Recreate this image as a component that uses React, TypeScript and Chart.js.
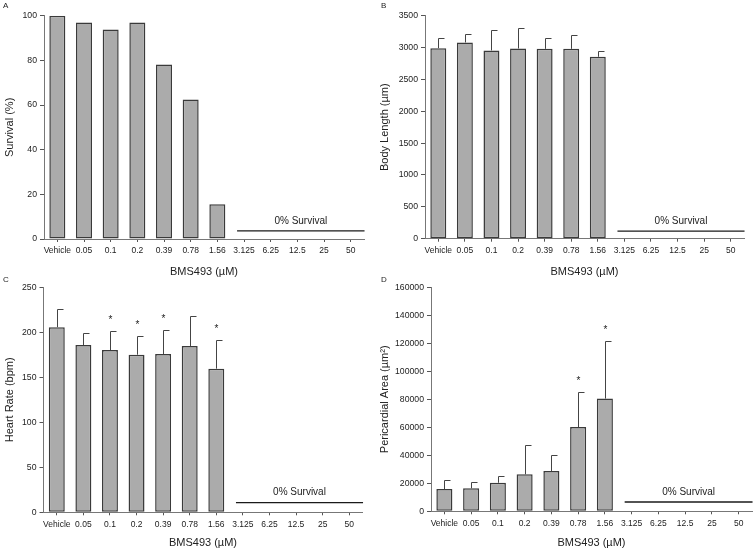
import React, { useEffect, useRef } from "react";
import { Chart, registerables } from "chart.js";

Chart.register(...registerables);

const categories = ["Vehicle", "0.05", "0.1", "0.2", "0.39", "0.78", "1.56", "3.125", "6.25", "12.5", "25", "50"];

const survivalValues = [100, 96.9, 93.8, 96.9, 78.1, 62.5, 15.6, null, null, null, null, null];

const bodyLengthValues = [2990, 3080, 2955, 2985, 2980, 2980, 2855, null, null, null, null, null];
const bodyLengthSD = [165, 135, 315, 315, 175, 210, 95, null, null, null, null, null];

const heartRateValues = [205.6, 185.9, 180.3, 175.1, 175.9, 184.8, 159.6, null, null, null, null, null];
const heartRateSD = [20, 13, 21.5, 20.4, 26.3, 33, 32.2, null, null, null, null, null];
const heartRateStars = [false, false, true, true, true, false, true, false, false, false, false, false];

const pericardialValues = [15900, 16400, 20400, 26400, 28800, 60200, 80500, null, null, null, null, null];
const pericardialSD = [6200, 4500, 5000, 20700, 11600, 25200, 41400, null, null, null, null, null];
const pericardialStars = [false, false, false, false, false, true, true, false, false, false, false, false];

const zeroLineLevels = { A: 3.6, B: 120, C: 10.7, D: 6640 };
const zeroLabel = "0% Survival";
const xTitle = "BMS493 (µM)";

type Rect = { x: number; y: number; w: number; h: number };
type Area = { left: number; top: number; right: number; bottom: number };

interface PanelProps {
  letter: string;
  values: (number | null)[];
  sd?: (number | null)[];
  stars?: boolean[];
  yMax: number;
  yStep: number;
  yTitle: string;
  zeroLevel: number;
  rect: Rect;
  area: Area;
  yTitleX: number;
  xTitleY: number;
}

const FONT = "Arial, 'Liberation Sans', sans-serif";
const AXIS_COLOR = "#777";
const TEXT_COLOR = "#222";

function Panel(p: PanelProps) {
  const ref = useRef<HTMLCanvasElement | null>(null);
  useEffect(() => {
    const canvas = ref.current;
    if (!canvas) return;
    const { rect, area } = p;
    const overlay = {
      id: "overlay" + p.letter,
      afterDatasetsDraw(chart: any) {
        const ctx = chart.ctx;
        const xs = chart.scales.x;
        const ys = chart.scales.y;
        const meta = chart.getDatasetMeta(0);
        ctx.save();
        if (p.sd) {
          ctx.strokeStyle = "#444";
          ctx.lineWidth = 1;
          p.sd.forEach((s, i) => {
            const v = p.values[i];
            if (s == null || v == null) return;
            const el = meta.data[i];
            const x = Math.round(el.x) + 0.5;
            const y0 = ys.getPixelForValue(v);
            const y1 = Math.round(ys.getPixelForValue(v + s)) + 0.5;
            ctx.beginPath();
            ctx.moveTo(x, y0);
            ctx.lineTo(x, y1);
            ctx.moveTo(x, y1);
            ctx.lineTo(x + 6, y1);
            ctx.stroke();
            if (p.stars && p.stars[i]) {
              ctx.fillStyle = TEXT_COLOR;
              ctx.font = `10px ${FONT}`;
              ctx.textAlign = "center";
              ctx.textBaseline = "middle";
              ctx.fillText("*", x, y1 - 11);
            }
          });
        }
        const n = categories.length;
        const spacing = (xs.right - xs.left) / n;
        const xStart = xs.getPixelForValue(7) - 0.26 * spacing;
        const xEnd = xs.getPixelForValue(n - 1) + 0.52 * spacing;
        const yl = ys.getPixelForValue(p.zeroLevel);
        ctx.strokeStyle = "#1a1a1a";
        ctx.lineWidth = 1.3;
        ctx.beginPath();
        ctx.moveTo(xStart, yl);
        ctx.lineTo(xEnd, yl);
        ctx.stroke();
        ctx.fillStyle = TEXT_COLOR;
        ctx.font = `10px ${FONT}`;
        ctx.textAlign = "center";
        ctx.textBaseline = "middle";
        ctx.fillText(zeroLabel, (xStart + xEnd) / 2, yl - 10);
        ctx.restore();
      },
    };
    const chart = new Chart(canvas, {
      type: "bar",
      data: {
        labels: categories,
        datasets: [
          {
            data: p.values as any,
            backgroundColor: "#ababab",
            borderColor: "#3a3a3a",
            borderWidth: 1.5,
            borderSkipped: false,
            barPercentage: 0.6,
            categoryPercentage: 1,
          },
        ],
      },
      options: {
        animation: false,
        responsive: false,
        maintainAspectRatio: false,
        devicePixelRatio: 1,
        layout: {
          padding: {
            left: 0,
            top: area.top - rect.y,
            right: rect.x + rect.w - area.right,
            bottom: 0,
          },
        },
        plugins: { legend: { display: false }, tooltip: { enabled: false } },
        scales: {
          x: {
            type: "category",
            offset: true,
            grid: {
              display: true,
              drawOnChartArea: false,
              drawTicks: true,
              tickLength: 3,
              color: "#555",
              offset: false,
            },
            border: { display: true, color: AXIS_COLOR, width: 1 },
            ticks: {
              autoSkip: false,
              maxRotation: 0,
              minRotation: 0,
              padding: 4,
              color: TEXT_COLOR,
              font: { family: FONT, size: 8.5 },
            },
            title: {
              display: true,
              text: xTitle,
              color: TEXT_COLOR,
              font: { family: FONT, size: 11, lineHeight: 1.2 },
              padding: { top: 0, bottom: Math.max(0, rect.y + rect.h - p.xTitleY - 6.6) },
            },
            afterFit(scale: any) {
              scale.height = rect.y + rect.h - area.bottom;
            },
          },
          y: {
            min: 0,
            max: p.yMax,
            grid: {
              display: true,
              drawOnChartArea: false,
              drawTicks: true,
              tickLength: 4,
              color: "#555",
            },
            border: { display: true, color: AXIS_COLOR, width: 1 },
            ticks: {
              stepSize: p.yStep,
              padding: 3,
              color: TEXT_COLOR,
              font: { family: FONT, size: 8.7 },
              callback: (v: any) => String(v),
            },
            title: {
              display: true,
              text: p.yTitle,
              color: TEXT_COLOR,
              font: { family: FONT, size: 11, lineHeight: 1.2 },
              padding: { top: Math.max(0, p.yTitleX - rect.x - 6.6), bottom: 0 },
            },
            afterFit(scale: any) {
              scale.width = area.left - rect.x;
            },
          },
        },
      },
      plugins: [overlay],
    });
    return () => chart.destroy();
  }, []);
  const { rect } = p;
  return (
    <>
      <canvas
        ref={ref}
        width={rect.w}
        height={rect.h}
        style={{ position: "absolute", left: rect.x, top: rect.y, width: rect.w, height: rect.h }}
      />
      <div
        style={{
          position: "absolute",
          left: rect.x + 3,
          top: p.letter === "A" || p.letter === "B" ? 1 : 275,
          font: `8px ${FONT}`,
          color: TEXT_COLOR,
        }}
      >
        {p.letter}
      </div>
    </>
  );
}

export default function App() {
  useEffect(() => {
    document.body.style.margin = "0";
  }, []);
  return (
    <div style={{ position: "relative", width: 756, height: 553, background: "#fff", overflow: "hidden" }}>
      <Panel
        letter="A"
        values={survivalValues}
        yMax={100}
        yStep={20}
        yTitle="Survival (%)"
        zeroLevel={zeroLineLevels.A}
        rect={{ x: 0, y: 0, w: 378, h: 280 }}
        area={{ left: 44, top: 15.7, right: 364, bottom: 239 }}
        yTitleX={10}
        xTitleY={271.7}
      />
      <Panel
        letter="B"
        values={bodyLengthValues}
        sd={bodyLengthSD}
        yMax={3500}
        yStep={500}
        yTitle="Body Length (µm)"
        zeroLevel={zeroLineLevels.B}
        rect={{ x: 378, y: 0, w: 378, h: 280 }}
        area={{ left: 425, top: 15.7, right: 744, bottom: 238.7 }}
        yTitleX={384}
        xTitleY={271.7}
      />
      <Panel
        letter="C"
        values={heartRateValues}
        sd={heartRateSD}
        stars={heartRateStars}
        yMax={250}
        yStep={50}
        yTitle="Heart Rate (bpm)"
        zeroLevel={zeroLineLevels.C}
        rect={{ x: 0, y: 270, w: 378, h: 283 }}
        area={{ left: 43.5, top: 287.3, right: 362.5, bottom: 512.3 }}
        yTitleX={10}
        xTitleY={542.7}
      />
      <Panel
        letter="D"
        values={pericardialValues}
        sd={pericardialSD}
        stars={pericardialStars}
        yMax={160000}
        yStep={20000}
        yTitle="Pericardial Area (µm²)"
        zeroLevel={zeroLineLevels.D}
        rect={{ x: 378, y: 270, w: 378, h: 283 }}
        area={{ left: 431, top: 287.3, right: 752, bottom: 511.3 }}
        yTitleX={384}
        xTitleY={542.7}
      />
    </div>
  );
}
